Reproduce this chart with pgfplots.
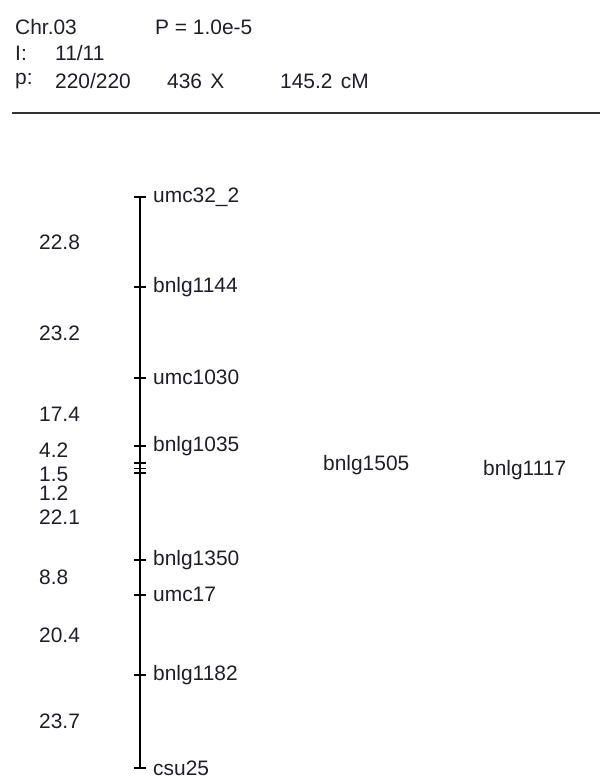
\documentclass[border=0pt]{standalone}
\usepackage{pgfplots}
\usepackage{pgfplotstable}
\pgfplotsset{compat=1.18}
\usepackage{fontspec}
\setmainfont{Liberation Sans}
\definecolor{txt}{HTML}{1E1E2A}
\newcommand{\fnt}{\fontsize{21}{24}\selectfont}

% marker positions (cM, cumulative)
\pgfplotstableread{
x y
140 0
140 22.8
140 46.0
140 63.4
140 67.6
140 69.1
140 70.3
140 92.4
140 101.2
140 121.6
140 145.3
}\loci

% marker names
\pgfplotstableread{
x y label
153 0 umc32\_2
153 22.8 bnlg1144
153 46.0 umc1030
153 63.4 bnlg1035
323 68.2 bnlg1505
483 69.5 bnlg1117
153 92.4 bnlg1350
153 101.2 umc17
153 121.6 bnlg1182
153 145.3 csu25
}\names

% interval distances (label positions)
\pgfplotstableread{
x y label
39 11.5 22.8
39 34.6 23.2
39 55.2 17.4
39 64.4 4.2
39 70.7 1.5
39 75.3 1.2
39 81.4 22.1
39 96.8 8.8
39 111.4 20.4
39 133.5 23.7
}\dists

\begin{document}
\begin{tikzpicture}
\useasboundingbox (0,0) rectangle (600bp,780bp);
\begin{axis}[
  at={(0,0)}, anchor=south west,
  scale only axis, width=600bp, height=780bp,
  hide axis, clip=false,
  xmin=0, xmax=600,
  ymin=-50.13, ymax=148.35, y dir=reverse,
]
% header
\tikzset{hdr/.style={anchor=west, inner sep=0pt, font=\fnt, text=txt}}
\node[hdr] at (axis cs:15,-43.3) {Chr.03};
\node[hdr] at (axis cs:155,-43.3) {P = 1.0e-5};
\node[hdr] at (axis cs:15,-36.6) {I:};
\node[hdr] at (axis cs:55,-36.6) {11/11};
\node[hdr] at (axis cs:15,-29.5) {p:};
\node[hdr] at (axis cs:55,-29.5) {220/220};
\node[hdr] at (axis cs:167,-29.5) {436\hspace{0.4em}X};
\node[hdr] at (axis cs:280,-29.5) {145.2\hspace{0.4em}cM};
\draw[line width=2bp, black!80] (axis cs:12,-21.4) -- (axis cs:600,-21.4);

% chromosome bar
\addplot[black, line width=2bp, mark=none] coordinates {(140,0) (140,145.3)};
% marker ticks
\addplot[only marks, mark=-, mark size=6bp, mark options={line width=1.8bp, black}] table[x=x,y=y] {\loci};
% marker names
\addplot[only marks, mark=none, nodes near coords, point meta=explicit symbolic,
  nodes near coords style={anchor=west, inner sep=0pt, font=\fnt, text=txt}]
  table[x=x, y=y, meta=label] {\names};
% distances
\addplot[only marks, mark=none, nodes near coords, point meta=explicit symbolic,
  nodes near coords style={anchor=west, inner sep=0pt, font=\fnt, text=txt}]
  table[x=x, y=y, meta=label] {\dists};
\end{axis}
\end{tikzpicture}
\end{document}
